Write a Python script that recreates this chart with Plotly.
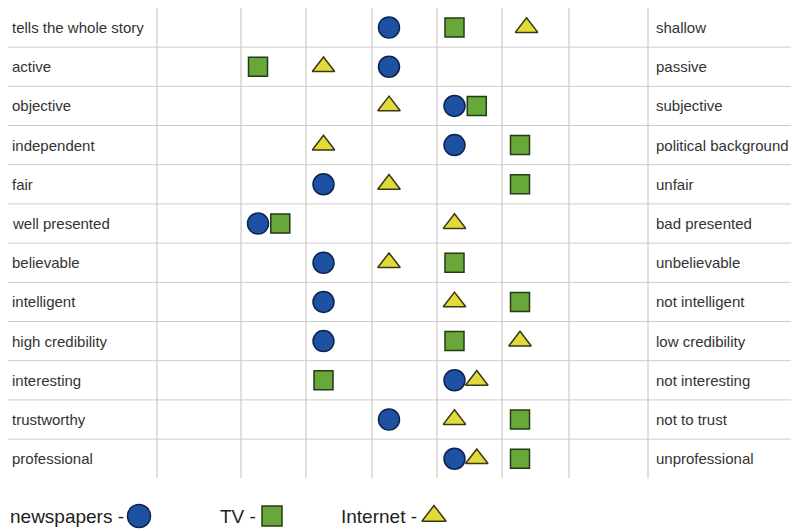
import plotly.graph_objects as go

# ---------------- data ----------------
left_labels = ["tells the whole story", "active", "objective", "independent", "fair",
               "well presented", "believable", "intelligent", "high credibility",
               "interesting", "trustworthy", "professional"]
right_labels = ["shallow", "passive", "subjective", "political background", "unfair",
                "bad presented", "unbelievable", "not intelligent", "low credibility",
                "not interesting", "not to trust", "unprofessional"]
# position on the 7-point scale (1 = left adjective ... 7 = right adjective)
newspapers = [4, 4, 5, 5, 3, 2, 3, 3, 3, 5, 4, 5]
tv         = [5, 2, 5, 6, 6, 2, 5, 6, 5, 3, 6, 6]
internet   = [6.1, 3, 4, 3, 4, 5, 4, 5, 6, 5, 5, 5]
legend_names = ["newspapers", "TV", "Internet"]

# ---------------- layout constants ----------------
PAGE_W, PAGE_H = 799, 531
OFF = 8                          # browser body margin
W, H = PAGE_W - OFF, PAGE_H - OFF
X0, STEP = 192.5, 65.5          # page pixel of scale value 1, pixels per scale step
Y0, RSTEP = 27.5, 39.2          # page pixel of first row centre, pixels per row


def px2v(px):
    return (px - X0) / STEP + 1


def py2r(py):
    return (py - Y0) / RSTEP


col_bounds_px = [157, 241, 306, 372, 437, 502, 569, 648]
PAIR_SHIFT = 0.34

BLUE, BLUE_L = "#1f51a3", "#0c2350"
GREEN, GREEN_L = "#68a83b", "#243a14"
YELLOW, YELLOW_L = "#e2da38", "#3a3618"
TXT = "#333333"
FONT = "Liberation Sans, Arial, sans-serif"

rows = list(range(len(left_labels)))


def shifted(vals, base):
    return [v + PAIR_SHIFT if abs(v - b) < 1e-9 else v for v, b in zip(vals, base)]


fig = go.Figure()

# grid lines
shapes = []
for bx in col_bounds_px:
    shapes.append(dict(type="line", xref="x", yref="y", x0=px2v(bx), x1=px2v(bx),
                       y0=-0.5, y1=len(rows) - 0.5,
                       line=dict(color="#c4bebe", width=1), layer="below"))
for i in range(len(rows) - 1):
    shapes.append(dict(type="line", xref="x", yref="y", x0=px2v(OFF), x1=px2v(PAGE_W),
                       y0=i + 0.5, y1=i + 0.5,
                       line=dict(color="#cfcaca", width=1), layer="below"))

fig.add_trace(go.Scatter(x=newspapers, y=rows, mode="markers", name="newspapers",
                         marker=dict(symbol="circle", size=21, color=BLUE,
                                     line=dict(color=BLUE_L, width=1.5)),
                         showlegend=False, hoverinfo="skip"))
fig.add_trace(go.Scatter(x=shifted(tv, newspapers), y=rows, mode="markers", name="TV",
                         marker=dict(symbol="square", size=19, color=GREEN,
                                     line=dict(color=GREEN_L, width=1.5)),
                         showlegend=False, hoverinfo="skip"))
fig.add_trace(go.Scatter(x=shifted(internet, newspapers), y=rows, mode="markers", name="Internet",
                         marker=dict(symbol="triangle-up", size=19.5, color=YELLOW,
                                     line=dict(color=YELLOW_L, width=1.5)),
                         showlegend=False, hoverinfo="skip"))

annotations = []
for i, (l, r) in enumerate(zip(left_labels, right_labels)):
    annotations.append(dict(x=px2v(10), y=i, xref="x", yref="y", text=l, showarrow=False,
                            xanchor="left", yanchor="middle",
                            font=dict(family=FONT, size=15, color=TXT)))
    annotations.append(dict(x=px2v(654), y=i, xref="x", yref="y", text=r, showarrow=False,
                            xanchor="left", yanchor="middle",
                            font=dict(family=FONT, size=15, color=TXT)))

# custom legend: "name - symbol"
leg_y = py2r(516)
leg_items = [
    (legend_names[0], 8, 139, "circle", 23, BLUE, BLUE_L),
    (legend_names[1], 218, 272, "square", 20, GREEN, GREEN_L),
    (legend_names[2], 339, 434, "triangle-up", 21, YELLOW, YELLOW_L),
]
for name, tx, mx, sym, sz, col, lcol in leg_items:
    annotations.append(dict(x=px2v(tx), y=leg_y, xref="x", yref="y", text=name + " -",
                            showarrow=False, xanchor="left", yanchor="middle",
                            font=dict(family=FONT, size=19, color="#222222")))
    fig.add_trace(go.Scatter(x=[px2v(mx)], y=[leg_y], mode="markers", showlegend=False,
                             hoverinfo="skip",
                             marker=dict(symbol=sym, size=sz, color=col,
                                         line=dict(color=lcol, width=1.5))))

fig.update_layout(
    width=W, height=H,
    margin=dict(l=0, r=0, t=0, b=0),
    paper_bgcolor="white", plot_bgcolor="white",
    shapes=shapes, annotations=annotations,
    xaxis=dict(range=[px2v(OFF), px2v(PAGE_W)], visible=False, fixedrange=True),
    yaxis=dict(range=[py2r(PAGE_H), py2r(OFF)], visible=False, fixedrange=True),
    showlegend=False,
)

fig.write_html("out.html")
